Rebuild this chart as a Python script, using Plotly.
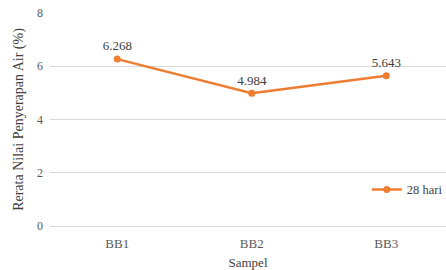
import plotly.graph_objects as go

categories = ["BB1", "BB2", "BB3"]
values = [6.268, 4.984, 5.643]
labels = ["6.268", "4.984", "5.643"]
series_name = "28 hari"

fig = go.Figure()
fig.add_trace(go.Scatter(
    x=categories, y=values, name=series_name,
    mode="lines+markers+text",
    text=labels, textposition="top center",
    textfont=dict(family="Liberation Serif", size=13, color="#404040"),
    line=dict(color="#ED7D31", width=2.5),
    marker=dict(color="#ED7D31", size=7),
    cliponaxis=False,
))

fig.update_layout(
    width=446, height=270,
    margin=dict(l=50, r=0, t=13, b=44, autoexpand=False),
    paper_bgcolor="white", plot_bgcolor="white",
    font=dict(family="Liberation Serif", size=12, color="#595959"),
    showlegend=True,
    legend=dict(x=0.80, y=0.17, xanchor="left", yanchor="middle",
                bgcolor="rgba(0,0,0,0)",
                font=dict(family="Liberation Serif", size=12.5, color="#404040"),
                itemwidth=30),
    xaxis=dict(
        type="category", range=[-0.5, 2.444],
        showgrid=False, showline=False, ticks="", automargin=False,
        ticklabelstandoff=8,
        tickfont=dict(family="Liberation Serif", size=13, color="#595959"),
        title=dict(text="Sampel", font=dict(family="Liberation Serif", size=13, color="#404040"), standoff=8),
    ),
    yaxis=dict(
        range=[0, 8], dtick=2, showgrid=True, gridcolor="#D9D9D9", gridwidth=1,
        zeroline=True, zerolinecolor="#D9D9D9", zerolinewidth=1,
        showline=False, ticks="", automargin=False,
        ticklabelstandoff=6,
        tickfont=dict(family="Liberation Serif", size=12, color="#595959"),
        title=dict(text="Rerata Nilai Penyerapan Air (%)",
                   font=dict(family="Liberation Serif", size=14, color="#404040"), standoff=10),
    ),
)

fig.write_html("out.html", config={"displayModeBar": False},
               post_script="document.body.style.margin='0';document.body.style.overflow='hidden';")
